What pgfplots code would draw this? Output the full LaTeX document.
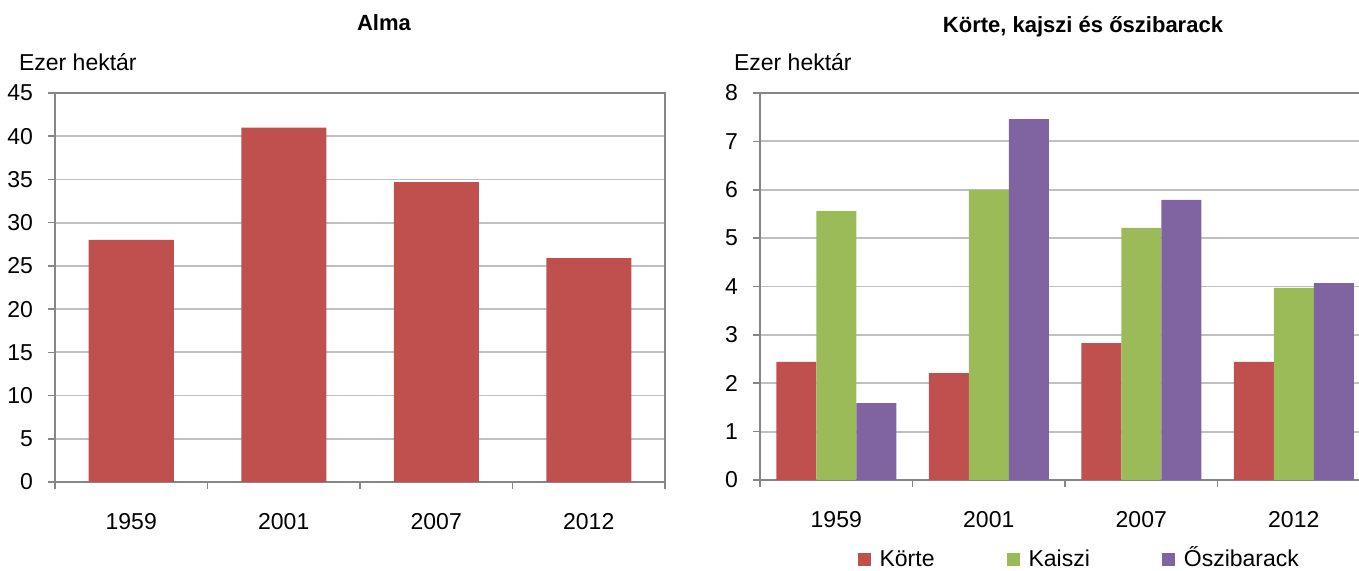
\documentclass[border=0pt]{standalone}
\usepackage{fontspec}
\setmainfont{Liberation Sans}
\usepackage{pgfplots}
\pgfplotsset{compat=1.18}

\definecolor{korte}{HTML}{C0504D}
\definecolor{kaiszi}{HTML}{9BBB59}
\definecolor{oszi}{HTML}{8064A2}
\definecolor{axisgray}{HTML}{868686}
\definecolor{gridgray}{HTML}{C0C0C0}

\pgfplotsset{
  common/.style={
    scale only axis, width=305pt,
    ybar=0pt, ymin=0,
    xmin=-0.5, xmax=3.5, enlargelimits=false,
    xtick={-0.5,0.5,1.5,2.5,3.5},
    xticklabels={1959,2001,2007,2012},
    x tick label as interval,
    tick pos=left, tick align=outside, major tick length=3.5pt,
    ymajorgrids, grid style={gridgray, line width=0.9pt},
    axis line style={axisgray, line width=0.9pt},
    tick style={axisgray, line width=0.8pt},
    font=\fontsize{11.5}{13}\selectfont,
    /pgf/number format/assume math mode=true,
    xticklabel style={yshift=-8.5pt},
    yticklabel style={xshift=-4pt},
    ylabel={Ezer hektár},
    ylabel style={rotate=-90, at={(rel axis cs:0,1)}, anchor=west},
    title style={at={(rel axis cs:0.5,1)}, anchor=center,
      font=\bfseries\fontsize{11}{13}\selectfont},
    every axis plot/.append style={draw=none,
      legend image code/.code={\fill[##1] (0pt,-3.25pt) rectangle (6.5pt,3.25pt);
        \path (9pt,0pt);}},
  }
}

\begin{document}
\begin{tikzpicture}
\path[use as bounding box] (0,0) rectangle (679.5pt,285.5pt);

% Alma
\begin{axis}[common,
  at={(27.5pt,44.5pt)}, anchor=south west, height=194.5pt,
  ymax=45, ytick={0,5,...,45},
  bar width=42.5pt,
  title={Alma}, title style={xshift=12pt, yshift=29pt},
  ylabel style={xshift=-21.5pt, yshift=15.5pt},
]
\addplot[fill=korte] coordinates {(0,28.0) (1,41.0) (2,34.7) (3,25.9)};
\end{axis}

% Körte, kajszi és őszibarack
\begin{axis}[common,
  at={(380pt,45.5pt)}, anchor=south west, height=193.5pt,
  ymax=8, ytick={0,...,8},
  bar width=20pt,
  title={Körte, kajszi és őszibarack}, title style={xshift=9pt, yshift=27pt},
  ylabel style={xshift=-16.5pt, yshift=15.5pt},
  legend columns=3,
  legend style={at={(0.525,-0.205)}, anchor=center, draw=none, fill=none,
    font=\fontsize{11.5}{13}\selectfont,
    nodes={text height=1.6ex, text depth=0.3ex},
    /tikz/every even column/.append style={column sep=34pt}},
]
\addplot[fill=korte] coordinates {(0,2.44) (1,2.21) (2,2.83) (3,2.44)};
\addplot[fill=kaiszi] coordinates {(0,5.56) (1,6.00) (2,5.21) (3,3.97)};
\addplot[fill=oszi] coordinates {(0,1.59) (1,7.46) (2,5.79) (3,4.07)};
\legend{Körte, Kaiszi, Őszibarack}
\end{axis}
\end{tikzpicture}
\end{document}
